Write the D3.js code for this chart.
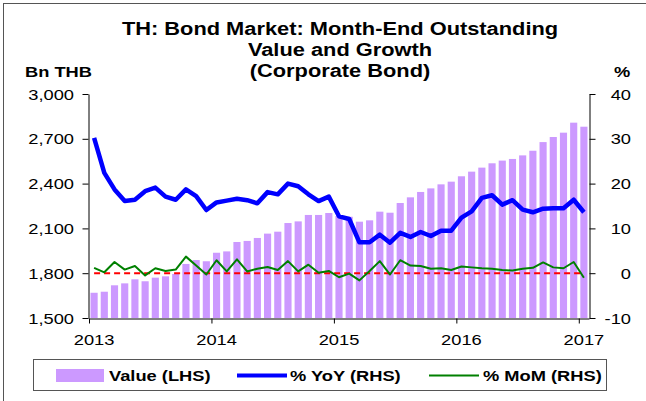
<!DOCTYPE html>
<html>
<head>
<meta charset="utf-8">
<script src="https://cdn.jsdelivr.net/npm/d3@7"></script>
<style>
  body { margin: 0; background: #fff; }
  svg { display: block; font-family: "Liberation Sans", Arial, sans-serif; }
</style>
</head>
<body>
<svg id="chart" width="646" height="401"></svg>
<script>
// monthly categories, Jan 2013 .. Jan 2017
const months = [
  "2013-01","2013-02","2013-03","2013-04","2013-05","2013-06","2013-07","2013-08","2013-09","2013-10","2013-11","2013-12",
  "2014-01","2014-02","2014-03","2014-04","2014-05","2014-06","2014-07","2014-08","2014-09","2014-10","2014-11","2014-12",
  "2015-01","2015-02","2015-03","2015-04","2015-05","2015-06","2015-07","2015-08","2015-09","2015-10","2015-11","2015-12",
  "2016-01","2016-02","2016-03","2016-04","2016-05","2016-06","2016-07","2016-08","2016-09","2016-10","2016-11","2016-12",
  "2017-01"
]

// outstanding value, Bn THB (LHS)
const value = [
  1669, 1676, 1719, 1732, 1759, 1746, 1770, 1779, 1795, 1862, 1888, 1880,
  1937, 1946, 2009, 2016, 2036, 2065, 2078, 2136, 2147, 2190, 2190, 2203,
  2183, 2178, 2145, 2154, 2212, 2205, 2270, 2308, 2344, 2368, 2395, 2413,
  2449, 2480, 2507, 2536, 2554, 2565, 2589, 2620, 2678, 2712, 2741, 2808,
  2781
]

// % YoY (RHS)
const yoy = [
  30.2, 22.4, 18.7, 16.1, 16.4, 18.3, 19.1, 17.1, 16.4, 18.7, 17.2, 14.1,
  15.8, 16.2, 16.6, 16.3, 15.6, 18.1, 17.6, 20.0, 19.4, 17.6, 16.1, 17.1,
  12.7, 12.1, 6.9, 6.9, 8.6, 6.8, 9.0, 8.1, 9.2, 8.3, 9.5, 9.5,
  12.4, 13.8, 16.8, 17.4, 15.3, 16.3, 14.2, 13.6, 14.4, 14.5, 14.5, 16.4,
  13.6
]

// % MoM (RHS)
const mom = [
  1.2, 0.2, 2.5, 0.8, 1.6, -0.5, 1.1, 0.5, 0.8, 3.7, 1.7, -0.3,
  2.9, 0.4, 3.1, 0.4, 1.0, 1.4, 0.7, 2.7, 0.4, 1.9, 0.1, 0.5,
  -0.9, -0.1, -1.6, 0.5, 2.7, -0.3, 2.9, 1.7, 1.6, 1.0, 1.1, 0.7,
  1.5, 1.3, 1.1, 1.0, 0.7, 0.6, 1.0, 1.2, 2.4, 1.3, 1.1, 2.5,
  -1.0
]

const yearLabels = ["2013", "2014", "2015", "2016", "2017"]
const leftTicks = [1500, 1800, 2100, 2400, 2700, 3000]
const rightTicks = [-10, 0, 10, 20, 30, 40]
const titleLines = ["TH: Bond Market: Month-End Outstanding", "Value and Growth", "(Corporate Bond)"]

const plotLeft = 89
const plotRight = 589
const plotTop = 94
const plotBottom = 318
const sx = 1.18   // text in the original is a bit wide

const svg = d3.select("#chart")

// frame
svg.append("rect")
    .attr("x", 3.5).attr("y", 3.5)
    .attr("width", 700).attr("height", 500)
    .attr("fill", "none")
    .attr("stroke", "#555")
    .attr("stroke-width", 1)

const x = d3.scaleBand()
    .domain(months)
    .range([plotLeft, plotRight])
    .paddingInner(0.3)
    .paddingOuter(0.15)

const xi = d3.scaleLinear().domain([0, months.length]).range([plotLeft, plotRight])
const yL = d3.scaleLinear().domain([1500, 3000]).range([plotBottom, plotTop])
const yR = d3.scaleLinear().domain([-10, 40]).range([plotBottom, plotTop])

function wideText(g, px, py, str, size, weight, anchor) {
    return g.append("text")
        .attr("transform", `translate(${px},${py}) scale(${sx},1)`)
        .attr("text-anchor", anchor)
        .attr("font-size", size)
        .attr("font-weight", weight)
        .attr("fill", "#000")
        .text(str)
}

// bars
svg.append("g").selectAll("rect")
    .data(value)
    .enter().append("rect")
    .attr("x", (d, i) => x(months[i]))
    .attr("y", d => yL(d))
    .attr("width", x.bandwidth())
    .attr("height", d => yL(1500) - yL(d))
    .attr("fill", "#cc99ff")

const cx = (d, i) => x(months[i]) + x.bandwidth() / 2

// zero line
svg.append("path")
    .datum(months.map(() => 0))
    .attr("fill", "none")
    .attr("stroke", "#ff0000")
    .attr("stroke-width", 2)
    .attr("stroke-dasharray", "6,4")
    .attr("d", d3.line().x(cx).y(d => yR(d)))

// MoM
svg.append("path")
    .datum(mom)
    .attr("fill", "none")
    .attr("stroke", "#008000")
    .attr("stroke-width", 2)
    .attr("stroke-linejoin", "round")
    .attr("d", d3.line().x(cx).y(d => yR(d)))

// YoY
svg.append("path")
    .datum(yoy)
    .attr("fill", "none")
    .attr("stroke", "#0000ff")
    .attr("stroke-width", 4.5)
    .attr("stroke-linejoin", "round")
    .attr("d", d3.line().x(cx).y(d => yR(d)))

// axes
const axisL = svg.append("g")
    .attr("transform", `translate(${plotLeft - 0.5},0)`)
    .call(d3.axisLeft(yL).tickValues(leftTicks).tickFormat(d3.format(",")).tickSize(6).tickSizeOuter(0))
axisL.selectAll("text").remove()
leftTicks.forEach(t => wideText(svg, 74, yL(t) + 5.5, d3.format(",")(t), 15.5, "normal", "end"))

const axisR = svg.append("g")
    .attr("transform", `translate(${plotRight + 0.5},0)`)
    .call(d3.axisRight(yR).tickValues(rightTicks).tickSize(6).tickSizeOuter(0))
axisR.selectAll("text").remove()
rightTicks.forEach(t => wideText(svg, 631, yR(t) + 5.5, t, 15.5, "normal", "end"))

const axisB = svg.append("g")
    .attr("transform", `translate(0,${plotBottom + 0.5})`)
    .call(d3.axisBottom(xi).tickValues([0, 12, 24, 36, 48]).tickFormat("").tickSize(5).tickSizeOuter(0))
yearLabels.forEach((t, k) => wideText(svg, xi(k * 12 + 0.5), 345, t, 15.5, "normal", "middle"))

svg.selectAll(".domain, .tick line").attr("stroke", "#000")

// titles
titleLines.forEach((t, k) => wideText(svg, 340, 35 + k * 21, t, 18.5, "bold", "middle"))
wideText(svg, 25, 77, "Bn THB", 15.5, "bold", "start")
wideText(svg, 614, 77, "%", 15.5, "bold", "start")

// legend
const lg = svg.append("g")
lg.append("rect")
    .attr("x", 33.5).attr("y", 359.5)
    .attr("width", 573).attr("height", 31)
    .attr("fill", "#fff")
    .attr("stroke", "#555")
lg.append("rect")
    .attr("x", 56).attr("y", 369)
    .attr("width", 48).attr("height", 13)
    .attr("fill", "#cc99ff")
wideText(lg, 109, 381, "Value (LHS)", 15.5, "bold", "start")
lg.append("line")
    .attr("x1", 237).attr("x2", 287).attr("y1", 375.5).attr("y2", 375.5)
    .attr("stroke", "#0000ff").attr("stroke-width", 4)
wideText(lg, 290, 381, "% YoY (RHS)", 15.5, "bold", "start")
lg.append("line")
    .attr("x1", 429).attr("x2", 479).attr("y1", 375.5).attr("y2", 375.5)
    .attr("stroke", "#008000").attr("stroke-width", 2)
wideText(lg, 483, 381, "% MoM (RHS)", 15.5, "bold", "start")
</script>
</body>
</html>
